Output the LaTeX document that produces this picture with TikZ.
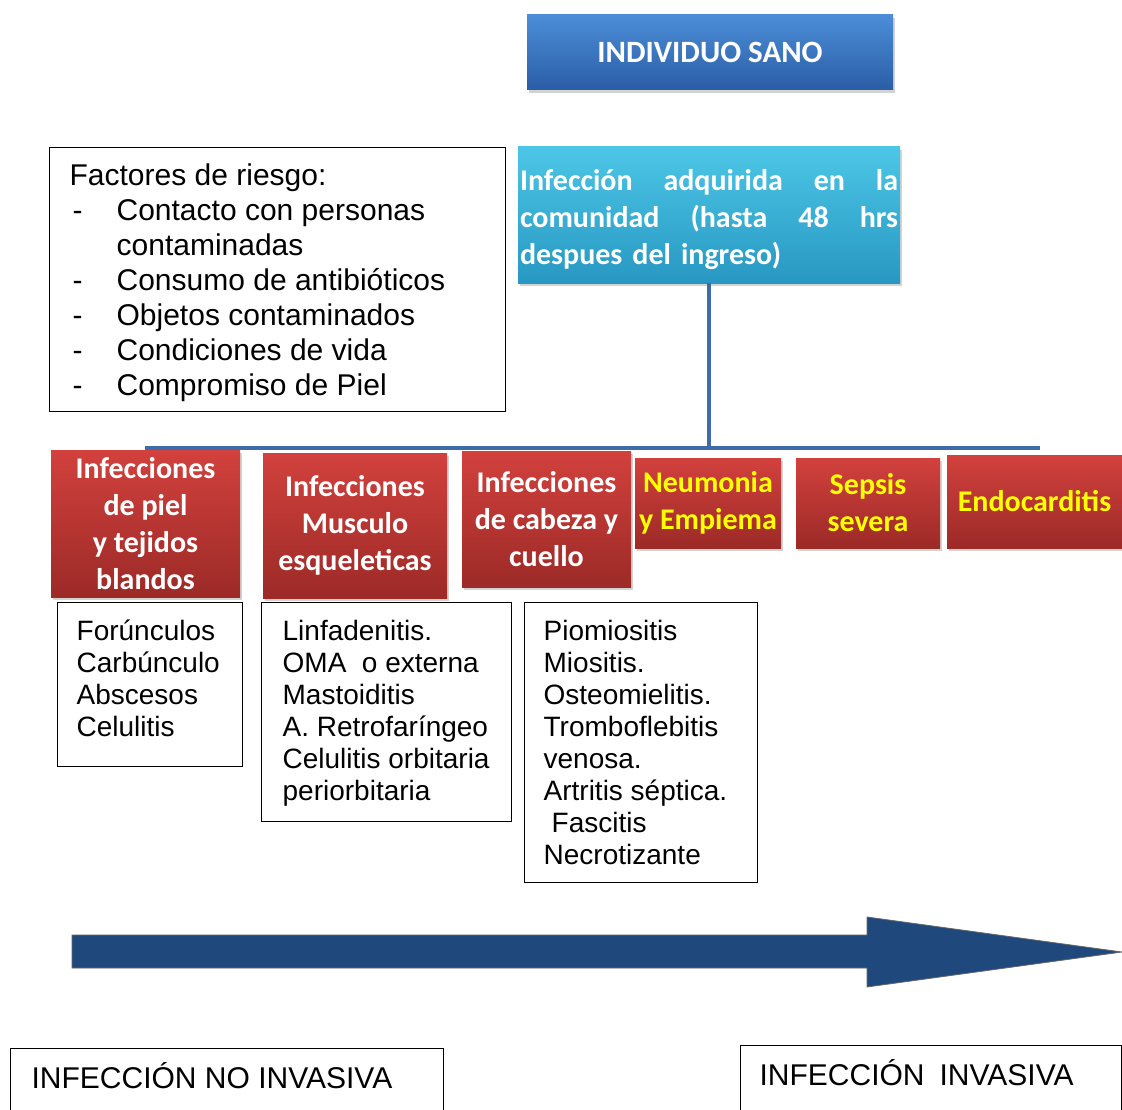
\documentclass[tikz,border=0pt]{standalone}
\usepackage{fontspec}
\setmainfont{Liberation Sans}
\newfontfamily\calibri{Carlito}
\usetikzlibrary{shadows}
\definecolor{redtop}{HTML}{D2413D}
\definecolor{redbot}{HTML}{9C2A27}
\definecolor{cyantop}{HTML}{4CC6E6}
\definecolor{cyanbot}{HTML}{2898C2}
\definecolor{bluetop}{HTML}{4C8DD8}
\definecolor{bluebot}{HTML}{2A5EA6}
\definecolor{busblue}{HTML}{3D6CA8}
\definecolor{arrowblue}{HTML}{1F497D}
\definecolor{ylw}{HTML}{FFFF00}
\begin{document}
\begin{tikzpicture}[x=1pt,y=-1pt,
  shade/.style={drop shadow={shadow xshift=2pt,shadow yshift=-3pt,opacity=0.35}},
  redbox/.style={rectangle,inner sep=0pt,top color=redtop,bottom color=redbot,draw=none,
    text=white,font=\calibri\bfseries\fontsize{30}{37}\selectfont,align=center,shade},
  ylwtext/.style={text=ylw},
  cyanbox/.style={rectangle,top color=cyantop,bottom color=cyanbot,draw=none,text=white,
    font=\calibri\bfseries\fontsize{30}{37}\selectfont,align=left,shade},
  bluebox/.style={rectangle,inner sep=0pt,top color=bluetop,bottom color=bluebot,draw=none,text=white,
    font=\calibri\bfseries\fontsize{31}{38}\selectfont,shade},
  listbox/.style={rectangle,draw=black,line width=1.3pt,fill=white,inner sep=0pt,anchor=north west},
  bus/.style={draw=busblue,line width=4pt},
  bigarrow/.style={fill=arrowblue,draw=black!60,line width=0.8pt}
]
\useasboundingbox (0,0) rectangle (1122,1110);

% top box
\node[bluebox,minimum width=366pt,minimum height=75pt] (sano) at (710,52.5) {INDIVIDUO SANO};

% risk factors
\node[listbox] (riesgo) at (49,147) {\parbox[c][264pt][t]{456pt}{\fontsize{30}{35}\selectfont\raggedright\leftskip=20pt
\rule{0pt}{38pt}Factores de riesgo:\\
\hspace*{3pt}\makebox[44pt][l]{-}Contacto con personas\\
\hspace*{47pt}contaminadas\\
\hspace*{3pt}\makebox[44pt][l]{-}Consumo de antibióticos\\
\hspace*{3pt}\makebox[44pt][l]{-}Objetos contaminados\\
\hspace*{3pt}\makebox[44pt][l]{-}Condiciones de vida\\
\hspace*{3pt}\makebox[44pt][l]{-}Compromiso de Piel}};

% community infection box
\node[cyanbox,minimum height=136pt,text width=378pt,inner xsep=2pt,inner ysep=0pt] (comm) at (709,215)
 {\rule{0pt}{31pt}\makebox[378pt][l]{Infección\hfill adquirida\hfill en\hfill la}\\
  \makebox[378pt][l]{comunidad\hfill (hasta\hfill 48\hfill hrs}\\
  despues del ingreso)};

% bus connectors
\coordinate (busL) at (145,448);
\coordinate (busR) at (1040,448);
\draw[bus] (comm.south) -- (comm.south |- busL);
\draw[bus] (busL) -- (busR);

% red category boxes
\node[redbox,minimum width=189pt,minimum height=147pt] (piel) at (145.5,523.5) {Infecciones\\de piel\\y tejidos\\blandos};
\node[redbox,minimum width=184pt,minimum height=145pt] (musc) at (355,525.5) {Infecciones\\Musculo\\esqueleticas};
\node[redbox,minimum width=169pt,minimum height=136pt] (cabeza) at (546.5,519) {Infecciones\\de cabeza y\\cuello};
\node[redbox,ylwtext,minimum width=146pt,minimum height=90pt] (neum) at (708,503) {Neumonia\\y Empiema};
\node[redbox,ylwtext,minimum width=144pt,minimum height=90pt] (sepsis) at (868,503) {Sepsis\\severa};
\node[redbox,ylwtext,minimum width=175pt,minimum height=93pt] (endo) at (1034.5,501.5) {Endocarditis};

% lists
\node[listbox] (lista) at (57,602) {\parbox[c][164pt][t]{185pt}{\fontsize{28}{32}\selectfont\raggedright\leftskip=19pt
\rule{0pt}{38pt}Forúnculos\\Carbúnculo\\Abscesos\\Celulitis}};
\node[listbox] (listb) at (261,602) {\parbox[c][219pt][t]{250pt}{\fontsize{28}{32}\selectfont\raggedright\leftskip=21pt
\rule{0pt}{38pt}Linfadenitis.\\OMA\ \ o externa\\Mastoiditis\\A. Retrofaríngeo\\Celulitis orbitaria\\periorbitaria}};
\node[listbox] (listc) at (524,602) {\parbox[c][280pt][t]{233pt}{\fontsize{28}{32}\selectfont\raggedright\leftskip=19pt
\rule{0pt}{38pt}Piomiositis\\Miositis.\\Osteomielitis.\\Tromboflebitis\\venosa.\\Artritis séptica.\\\hspace*{8pt}Fascitis\\Necrotizante}};

% big arrow
\draw[bigarrow] (72,935) -- (867,935) -- (867,917) -- (1122,952) -- (867,987) -- (867,968) -- (72,968) -- cycle;

% bottom labels
\node[listbox] (noinv) at (10,1048) {\parbox[c][70pt][t]{433pt}{\fontsize{30}{35}\selectfont\raggedright\leftskip=21pt
\rule{0pt}{40pt}INFECCIÓN NO INVASIVA}};
\node[listbox] (inv) at (740,1045) {\parbox[c][70pt][t]{381pt}{\fontsize{30}{35}\selectfont\raggedright\leftskip=19pt
\rule{0pt}{40pt}INFECCIÓN\hspace{0.5em}INVASIVA}};
\end{tikzpicture}
\end{document}
